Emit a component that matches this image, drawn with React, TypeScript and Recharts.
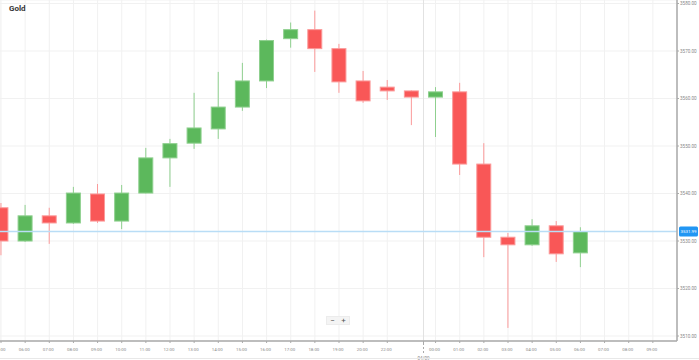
import React from 'react';
import { ComposedChart, Bar, XAxis, YAxis, CartesianGrid, ReferenceLine } from 'recharts';

const times = ['05:00','06:00','07:00','08:00','09:00','10:00','11:00','12:00','13:00','14:00','15:00','16:00','17:00','18:00','19:00','20:00','22:00','23:00','00:00','01:00','02:00','03:00','04:00','05:00','06:00'];
const opens = [3537.0,3530.0,3535.3,3533.8,3539.9,3534.2,3540.1,3547.5,3550.6,3553.6,3558.2,3563.7,3572.6,3574.5,3570.5,3563.7,3562.4,3561.6,3560.3,3561.4,3546.2,3530.8,3529.2,3533.2,3527.5];
const highs = [3538.0,3537.6,3537.0,3541.4,3542.0,3541.8,3549.6,3551.5,3561.2,3565.6,3567.5,3572.4,3576.0,3578.5,3571.5,3565.8,3563.9,3561.7,3562.4,3563.3,3550.6,3531.7,3534.6,3534.2,3532.9];
const lows = [3527.0,3529.8,3529.4,3533.6,3533.8,3532.5,3540.0,3541.4,3549.4,3551.5,3557.4,3562.2,3570.7,3565.6,3561.2,3559.1,3559.7,3554.4,3551.9,3543.9,3526.6,3511.7,3529.0,3525.6,3524.5];
const closes = [3530.0,3535.3,3533.8,3540.1,3534.2,3540.1,3547.5,3550.5,3553.8,3558.2,3563.7,3572.2,3574.5,3570.5,3563.5,3559.5,3561.6,3560.3,3561.4,3546.2,3530.8,3529.2,3533.2,3527.3,3531.99];

const xTicks = [0,1,2,3,4,5,6,7,8,9,10,11,12,13,14,15,16,17.5,18,19,20,21,22,23,24,25,26,27];
const xTickLabels = ['05:00','06:00','07:00','08:00','09:00','10:00','11:00','12:00','13:00','14:00','15:00','16:00','17:00','18:00','19:00','20:00','22:00','04/09','00:00','01:00','02:00','03:00','04:00','05:00','06:00','07:00','08:00','09:00'];
const yTicks = [3510, 3520, 3530, 3540, 3550, 3560, 3570, 3580];
const lastPrice = 3531.99;
const title = 'Gold';

const data = times.map((t, i) => ({
  idx: i,
  time: t,
  open: opens[i],
  high: highs[i],
  low: lows[i],
  close: closes[i],
}));

const GREEN = '#5cb85c';
const GREEN_EDGE = '#8fd08f';
const RED = '#f95757';
const RED_EDGE = '#fb9a9a';

const Candle = (props: any) => {
  const { x, y, width, height, payload } = props;
  if (!payload) return null;
  const { open, close, high, low } = payload;
  const up = close >= open;
  const ppu = height / (high - low || 1);
  const cx = x + width / 2;
  const bodyTop = y + (high - Math.max(open, close)) * ppu;
  const bodyBot = y + (high - Math.min(open, close)) * ppu;
  const bw = 14;
  return (
    <g>
      <line x1={cx} x2={cx} y1={y} y2={y + height} stroke={up ? GREEN_EDGE : RED_EDGE} strokeWidth={1} />
      <rect x={cx - bw / 2} y={bodyTop} width={bw} height={Math.max(bodyBot - bodyTop, 1)} fill={up ? GREEN : RED} stroke={up ? GREEN_EDGE : RED_EDGE} strokeWidth={1} />
    </g>
  );
};

const XTick = (props: any) => {
  const { x, y, payload } = props;
  const i = xTicks.indexOf(payload.value);
  const label = xTickLabels[i];
  if (payload.value === 17.5) {
    return (
      <g>
        <line x1={x} x2={x} y1={y - 2} y2={y + 8} stroke="#aaa" strokeWidth={1} strokeDasharray="2 2" />
        <text x={x} y={y + 15} textAnchor="middle" fontSize={4.6} fill="#888" fontFamily="Roboto">{label}</text>
      </g>
    );
  }
  return (
    <text x={x - 1} y={y + 6} textAnchor="middle" fontSize={4.4} fill="#888" fontFamily="Roboto">{label}</text>
  );
};

const PriceTag = (props: any) => {
  const { viewBox } = props;
  if (!viewBox) return null;
  const yy = viewBox.y;
  const xx = viewBox.x + viewBox.width + 2;
  return (
    <g>
      <rect x={xx} y={yy - 5} width={19} height={10} rx={1.5} fill="#2196f3" />
      <text x={xx + 9.5} y={yy + 1.6} textAnchor="middle" fontSize={4.4} fill="#fff" fontFamily="Roboto">{lastPrice.toFixed(2)}</text>
    </g>
  );
};

export default function App() {
  return (
    <div style={{ position: 'absolute', left: 0, top: 0, width: 699, height: 360, background: '#fff', overflow: 'hidden', fontFamily: 'Roboto' }}>
      <ComposedChart width={699} height={360} data={data} margin={{ top: 0, right: 0, left: 0, bottom: 0 }}>
        <CartesianGrid stroke="#f1f1f1" strokeWidth={1} vertical={true} horizontal={true} />
        <XAxis
          dataKey="idx"
          type="number"
          domain={[-0.042, 28]}
          allowDataOverflow
          ticks={xTicks}
          interval={0}
          height={19}
          tick={<XTick />}
          tickSize={2}
          stroke="#aaa"
          tickLine={{ stroke: '#aaa' }}
          axisLine={{ stroke: '#aaa', strokeWidth: 1.5 }}
        />
        <YAxis
          orientation="right"
          domain={[3508.95, 3580.74]}
          allowDataOverflow
          ticks={yTicks}
          width={22}
          tickSize={2}
          tickMargin={1}
          tickFormatter={(v: number) => v.toFixed(2)}
          tick={{ fontSize: 4.6, fill: '#888', fontFamily: 'Roboto', textAnchor: 'start' }}
          axisLine={{ stroke: '#aaa', strokeWidth: 1.5 }}
          tickLine={{ stroke: '#aaa' }}
        />
        <ReferenceLine x={17.5} stroke="#e2e2e2" strokeWidth={1} />
        <Bar dataKey={(d: any) => [d.low, d.high]} barSize={14} shape={<Candle />} isAnimationActive={false} />
        <ReferenceLine y={lastPrice} stroke="#b9ddf6" strokeWidth={1.5} label={<PriceTag />} />
      </ComposedChart>
      <div style={{ position: 'absolute', left: 9, top: 4, fontSize: 8, fontWeight: 'bold', color: '#333', fontFamily: 'Roboto' }}>{title}</div>
      <div style={{ position: 'absolute', left: 326, top: 316, width: 24, height: 9, background: '#f4f4f4', border: '1px solid #ececec', boxSizing: 'border-box', display: 'flex', justifyContent: 'space-around', alignItems: 'center', fontSize: 8, color: '#555', fontFamily: 'Roboto', lineHeight: '8px' }}>
        <span>−</span><span>+</span>
      </div>
      <div style={{ position: 'absolute', left: 0, top: 358, width: 699, height: 1, background: '#e8e8e8' }} />
    </div>
  );
}
